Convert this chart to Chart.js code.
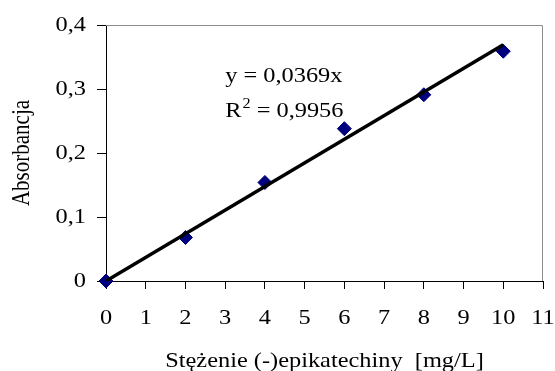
<!DOCTYPE html>
<html>
<head>
<meta charset="utf-8">
<script src="https://cdn.jsdelivr.net/npm/chart.js@4/dist/chart.umd.min.js"></script>
<style>
  html, body { margin: 0; padding: 0; background: #fff; }
  #wrap { width: 555px; height: 371px; }
</style>
</head>
<body>
<div id="wrap"><canvas id="chart" width="555" height="371"></canvas></div>
<script>
// measured points
const concentrations = [0, 2, 4, 6, 8, 10];
const absorbance = [0, 0.068, 0.154, 0.238, 0.291, 0.359];

// linear trend y = 0.0369x, drawn between its two end points
const trendX = [0, 10];
const trendY = [0, 0.369];

const xTicks = [0, 1, 2, 3, 4, 5, 6, 7, 8, 9, 10, 11];
const yTicks = [0, 0.1, 0.2, 0.3, 0.4];

const xTitle = 'Stężenie (-)epikatechiny  [mg/L]';
const yTitle = 'Absorbancja';
const eqLines = ['y = 0,0369x', 'R', ' = 0,9956'];
const eqAnchor = { x: 3.0, y1: 0.311, y2: 0.256 };

const serif = '"Liberation Serif", "Times New Roman", serif';
const stretch = 1.16; // the original text is a bit wider than it is tall

// draw text widened horizontally (screen x direction)
function wideText(ctx, text, x, y, align, size) {
  ctx.save();
  ctx.font = size + 'px ' + serif;
  const w = ctx.measureText(text).width * stretch;
  let left = x;
  if (align === 'center') left = x - w / 2;
  if (align === 'right') left = x - w;
  ctx.translate(left, y);
  ctx.scale(stretch, 1);
  ctx.textAlign = 'left';
  ctx.fillText(text, 0, 0);
  ctx.restore();
  return w;
}

const extras = {
  id: 'extras',
  beforeDatasetsDraw(chart) {
    const { ctx, chartArea: a } = chart;
    ctx.save();
    ctx.strokeStyle = '#8c8c8c';
    ctx.lineWidth = 1;
    ctx.beginPath();
    ctx.moveTo(a.left, a.top + 0.5);
    ctx.lineTo(a.right - 0.5, a.top + 0.5);
    ctx.lineTo(a.right - 0.5, a.bottom);
    ctx.stroke();
    ctx.restore();
  },
  afterDraw(chart) {
    const { ctx, scales, chartArea: a } = chart;
    const xs = scales.x, ys = scales.y;
    ctx.save();
    ctx.fillStyle = '#000';
    ctx.textBaseline = 'middle';

    // tick labels
    xTicks.forEach(v => {
      wideText(ctx, String(v), xs.getPixelForValue(v), a.bottom + 37, 'center', 21);
    });
    yTicks.forEach(v => {
      const s = String(Math.round(v * 10) / 10).replace('.', ',');
      wideText(ctx, s, a.left - 20, ys.getPixelForValue(v), 'right', 21);
    });

    // axis titles
    ctx.textBaseline = 'alphabetic';
    wideText(ctx, xTitle, (a.left + a.right) / 2, 367, 'center', 21);

    ctx.save();
    ctx.translate(29, (a.top + a.bottom) / 2);
    ctx.rotate(-Math.PI / 2);
    ctx.scale(1, stretch);
    ctx.font = '21px ' + serif;
    ctx.textAlign = 'center';
    ctx.fillText(yTitle, 0, 0);
    ctx.restore();

    // trend equation
    const px = xs.getPixelForValue(eqAnchor.x);
    const py1 = ys.getPixelForValue(eqAnchor.y1);
    const py2 = ys.getPixelForValue(eqAnchor.y2);
    wideText(ctx, eqLines[0], px, py1, 'left', 21);
    let w = wideText(ctx, eqLines[1], px, py2, 'left', 21);
    w += wideText(ctx, '2', px + w + 1, py2 - 9, 'left', 14) + 1;
    wideText(ctx, eqLines[2], px + w, py2, 'left', 21);
    ctx.restore();
  }
};

const ctx = document.getElementById('chart').getContext('2d');
new Chart(ctx, {
  type: 'scatter',
  data: {
    datasets: [
      {
        type: 'line',
        data: trendX.map((x, i) => ({ x: x, y: trendY[i] })),
        borderColor: '#000',
        borderWidth: 3.5,
        pointRadius: 0,
        fill: false,
        order: 0
      },
      {
        data: concentrations.map((x, i) => ({ x: x, y: absorbance[i] })),
        pointStyle: 'rectRot',
        pointRadius: 7,
        backgroundColor: '#00007f',
        borderColor: '#00007f',
        borderWidth: 1,
        clip: false,
        order: 1
      }
    ]
  },
  options: {
    responsive: false,
    animation: false,
    layout: { padding: { left: 0, top: 25, right: 12, bottom: 0 } },
    plugins: { legend: { display: false }, tooltip: { enabled: false } },
    scales: {
      x: {
        type: 'linear',
        min: 0,
        max: 11,
        afterFit(scale) { scale.height = 90; },
        afterBuildTicks(scale) { scale.ticks = xTicks.map(v => ({ value: v })); },
        grid: { drawOnChartArea: false, drawTicks: true, tickLength: 8, color: '#000' },
        border: { color: '#000', width: 1 },
        ticks: { display: false },
        title: { display: false }
      },
      y: {
        min: 0,
        max: 0.4,
        afterFit(scale) { scale.width = 106; },
        afterBuildTicks(scale) { scale.ticks = yTicks.map(v => ({ value: v })); },
        grid: { drawOnChartArea: false, drawTicks: true, tickLength: 9, color: '#000' },
        border: { color: '#000', width: 1 },
        ticks: { display: false },
        title: { display: false }
      }
    }
  },
  plugins: [extras]
});
</script>
</body>
</html>
